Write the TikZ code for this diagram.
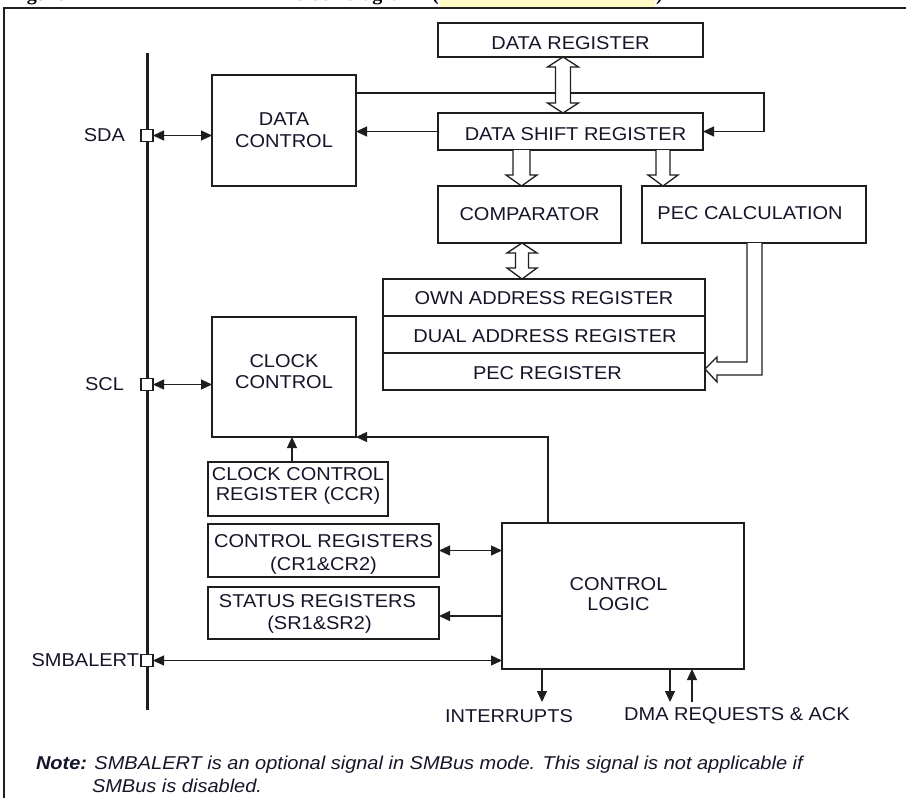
\documentclass[tikz,border=0pt]{standalone}
\usepackage{fontspec}
\setmainfont{Liberation Sans}[FakeStretch=1.075]
\newfontfamily\capfont{Liberation Serif}
\usetikzlibrary{arrows.meta,calc}
\definecolor{ink}{HTML}{1E1E1E}
\definecolor{txt}{HTML}{15152A}
\definecolor{hilite}{HTML}{FFFAC4}

\begin{document}
\begin{tikzpicture}[x=1pt,y=-1pt,
  every node/.style={font=\fontsize{18.6}{21.5}\selectfont, text=txt, inner sep=0pt, outer sep=0pt},
  box/.style={draw=ink, line width=1.3pt, fill=white},
  lbl/.style={align=center},
  port/.style={draw=ink, line width=1.2pt, fill=white, minimum size=12pt},
  tip/.tip={Triangle[length=11pt,width=10pt]},
  arr/.style={draw=ink, line width=1.3pt, -tip},
  darr/.style={draw=ink, line width=1.3pt, tip-tip},
  hollow/.style={draw=ink, line width=1.3pt, fill=white, line join=miter},
  capt/.style={anchor=base west, font=\capfont\bfseries\fontsize{20}{22}\selectfont, text=black},
]
\useasboundingbox (0,0) rectangle (906,798);

% caption line above the frame, cut off by the page edge
\begin{scope}
  \clip (0,0) rectangle (906,7);
  \fill[hilite] (440,0) rectangle (655,6.5);
  \node[capt] (capA) at (9,0.5) {Figure};
  \node[capt] (capB) at (294,0.5) {block diagram};
  \node[capt] (capC) at (432,0.5) {(};
  \node[capt] (capD) at (656,0.5) {)};
\end{scope}

% frame
\draw[ink, line width=1.4pt] (4,798) -- (4,8) -- (906,8);

% bus line
\coordinate (bustop) at (147,53);
\coordinate (busbot) at (147,710);
\draw[ink, line width=3pt] (bustop) -- (busbot);

% blocks
\node[box, minimum width=265pt, minimum height=34pt] (dreg) at (570.5,40) {};
\node[box, minimum width=265pt, minimum height=37pt] (dsr) at (570.5,131.5) {};
\node[box, minimum width=144pt, minimum height=111pt] (dctl) at (284,130.5) {};
\node[box, minimum width=183pt, minimum height=57pt] (cmp) at (529.5,214.5) {};
\node[box, minimum width=224pt, minimum height=57pt] (pec) at (754,214.5) {};
\node[box, minimum width=322pt, minimum height=37pt] (own) at (544,297.5) {};
\node[box, minimum width=322pt, minimum height=37pt] (dual) at (544,334.5) {};
\node[box, minimum width=322pt, minimum height=37pt] (pecreg) at (544,371.5) {};
\node[box, minimum width=144pt, minimum height=120pt] (cctl) at (284,377) {};
\node[box, minimum width=180pt, minimum height=54pt] (ccr) at (298,489) {};
\node[box, minimum width=231pt, minimum height=53pt] (cr) at (323.5,550.5) {};
\node[box, minimum width=231pt, minimum height=52pt] (sr) at (323.5,613) {};
\node[box, minimum width=242pt, minimum height=146pt] (logic) at (623,596) {};

% block texts
\node[lbl] (dregt) at ($(dreg.center)+(0,3)$) {DATA REGISTER};
\node[lbl] (dsrt) at ($(dsr.center)+(5,2.5)$) {DATA SHIFT REGISTER};
\node[lbl] (dctlt) at ($(dctl.center)+(0,-0.5)$) {DATA\\CONTROL};
\node[lbl] (cmpt) at (cmp.center) {COMPARATOR};
\node[lbl] (pect) at ($(pec.center)+(-4,-1)$) {PEC CALCULATION};
\node[lbl] (ownt) at ($(own.center)+(0,1)$) {OWN ADDRESS REGISTER};
\node[lbl] (dualt) at ($(dual.center)+(1,1.5)$) {DUAL ADDRESS REGISTER};
\node[lbl] (pecregt) at ($(pecreg.center)+(3.5,2)$) {PEC REGISTER};
\node[lbl] (cctlt) at ($(cctl.center)+(0,-5.5)$) {CLOCK\\CONTROL};
\node[lbl, font=\fontsize{18.6}{20}\selectfont] (ccrt) at ($(ccr.center)+(0,-3)$) {CLOCK CONTROL\\REGISTER (CCR)};
\node[lbl, font=\fontsize{18.6}{23}\selectfont] (crt) at ($(cr.center)+(0,4)$) {CONTROL REGISTERS\\(CR1\&CR2)};
\node[lbl] (srt) at ($(sr.center)+(-6,1)$) {STATUS REGISTERS\\\hspace*{4pt}(SR1\&SR2)};
\node[lbl, font=\fontsize{18.6}{20}\selectfont] (logict) at ($(logic.center)+(-4.5,-2)$) {CONTROL\\LOGIC};

% pins on the bus
\node[port] (sda) at (147,135.5) {};
\node[port] (scl) at (147,384.5) {};
\node[port] (smb) at (147,660.5) {};
\node[anchor=east] (sdalbl) at (125,135.5) {SDA};
\node[anchor=east] (scllbl) at (124,384) {SCL};
\node[anchor=east] (smblbl) at (139,660) {SMBALERT};

% outputs of the control logic
\node (intr) at (509,716) {INTERRUPTS};
\node (dma) at (737,716) {DMA REQUESTS \& ACK};
\coordinate (intrtip) at (542,702);
\coordinate (dmaout) at (670,702);
\coordinate (dmain) at (692,702);

% single-line connectors
\draw[darr] (sda.east) -- (dctl.west |- sda.east);
\draw[darr] (scl.east) -- (cctl.west |- scl.east);
\draw[darr] (smb.east) -- (logic.west |- smb.east);
\draw[arr] (dsr.west) -- (dctl.east |- dsr.west);
\draw[arr] (dctl.east |- 0,93) -- (764,93) |- (dsr.east);
\draw[arr] (ccr.north -| 292,0) -- (cctl.south -| 292,0);
\draw[arr] (logic.north -| 548,0) |- (cctl.south east);
\draw[darr] (cr.east) -- (logic.west |- cr.east);
\draw[arr] (logic.west |- 0,616) -- (sr.east |- 0,616);
\draw[arr] (logic.south -| intrtip) -- (intrtip);
\draw[arr] (logic.south -| dmaout) -- (dmaout);
\draw[arr] (dmain) -- (logic.south -| dmain);

% wide (bus) arrows
\draw[hollow] let \p1=(dreg.south), \p2=(dsr.north) in
  (563pt,\y1) -- (547.5pt,\y1-10pt) -- (555.5pt,\y1-10pt) -- (555.5pt,\y2+10pt)
  -- (547.5pt,\y2+10pt) -- (563pt,\y2) -- (578.5pt,\y2+10pt) -- (570.5pt,\y2+10pt)
  -- (570.5pt,\y1-10pt) -- (578.5pt,\y1-10pt) -- cycle;
\draw[hollow] let \p1=(dsr.south), \p2=(cmp.north) in
  (513pt,\y1) -- (513pt,\y2+11pt) -- (506pt,\y2+11pt) -- (521.5pt,\y2)
  -- (537pt,\y2+11pt) -- (530pt,\y2+11pt) -- (530pt,\y1);
\draw[hollow] let \p1=(dsr.south), \p2=(pec.north) in
  (656pt,\y1) -- (656pt,\y2+11pt) -- (648pt,\y2+11pt) -- (663pt,\y2)
  -- (678pt,\y2+11pt) -- (670pt,\y2+11pt) -- (670pt,\y1);
\draw[hollow] let \p1=(cmp.south), \p2=(own.north) in
  (522pt,\y1) -- (507pt,\y1-10pt) -- (515.5pt,\y1-10pt) -- (515.5pt,\y2+11pt)
  -- (507pt,\y2+11pt) -- (522pt,\y2) -- (537pt,\y2+11pt) -- (528.5pt,\y2+11pt)
  -- (528.5pt,\y1-10pt) -- (537pt,\y1-10pt) -- cycle;
\draw[hollow] let \p1=(pec.south), \p2=(pecreg.east) in
  (747pt,\y1) -- (747pt,\y2+9.5pt) -- (\x2+12pt,\y2+9.5pt) -- (\x2+12pt,\y2+14.5pt)
  -- (\x2,\y2+2.5pt) -- (\x2+12pt,\y2-10.5pt) -- (\x2+12pt,\y2-3.5pt)
  -- (762pt,\y2-3.5pt) -- (762pt,\y1);

% note
\node[anchor=base west, font=\itshape\fontsize{18.6}{21.5}\selectfont] (note1) at (36,769)
  {{\bfseries Note:} SMBALERT is an optional signal in SMBus mode. This signal is not applicable if};
\node[anchor=base west, font=\itshape\fontsize{18.6}{21.5}\selectfont] (note2) at (92,792)
  {SMBus is disabled.};
\end{tikzpicture}
\end{document}
